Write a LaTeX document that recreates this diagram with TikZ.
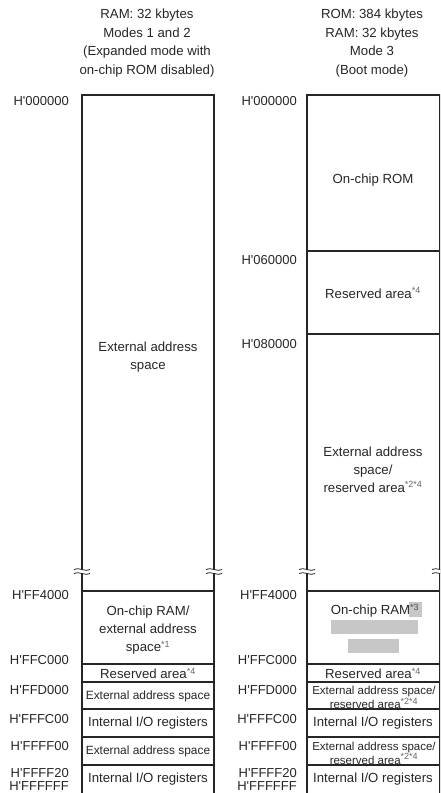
\documentclass[tikz,border=0pt]{standalone}
\usepackage{fontspec}
\setmainfont{Liberation Sans}
\begin{document}
\begin{tikzpicture}[x=1pt,y=-1pt,
  txt/.style={font=\fontsize{13.2}{18}\selectfont, align=center, inner sep=0pt, text=black!85},
  hdr/.style={font=\fontsize{13.2}{18.8}\selectfont, align=center, inner sep=0pt, text=black!85},
  smalltxt/.style={font=\fontsize{11.9}{12}\selectfont, align=center, inner sep=0pt, text=black!85},
  tinytxt/.style={font=\fontsize{11.5}{11.5}\selectfont, align=center, inner sep=0pt, text=black!85},
  lbl/.style={font=\fontsize{13}{14}\selectfont, anchor=east, inner sep=0pt, text=black!85},
  border/.style={line width=1.3pt, black!85},
  sepline/.style={line width=1.6pt, black!85},
  wave/.style={line width=0.8pt, black!85},
  redact/.style={fill=black!22, draw=none}
]
\newcommand{\nt}[1]{\textsuperscript{\color{black!60}\fontsize{9}{9}\selectfont #1}}
\newcommand{\ap}{\textquotesingle}
\newcommand{\brk}[2]{%
  \fill[white] (#1-9,#2-1.5) rectangle (#1+9,#2+2.5);
  \draw[wave] (#1-8,#2-0.5) .. controls (#1-4,#2-3.5) and (#1+4,#2+2.5) .. (#1+8,#2-0.5);
  \draw[wave] (#1-8,#2+3.5) .. controls (#1-4,#2+0.5) and (#1+4,#2+6.5) .. (#1+8,#2+3.5);}
\useasboundingbox (0,0) rectangle (440,793);
\clip (0,0) rectangle (440,793);

% headers
\node[hdr] (h1) at (147,43) {RAM: 32 kbytes\\Modes 1 and 2\\(Expanded mode with\\on-chip ROM disabled)};
\node[hdr] (h2) at (372,43) {ROM: 384 kbytes\\RAM: 32 kbytes\\Mode 3\\(Boot mode)};

% left column frame
\draw[border] (82,793) -- (82,95) -- (214,95) -- (214,793);
\foreach \y in {591,664} \draw[border] (82,\y) -- (214,\y);
\foreach \y in {682,709,737,765} \draw[sepline] (82,\y) -- (214,\y);
\brk{82}{570}
\brk{214}{570}

% right column frame
\draw[border] (307,793) -- (307,95) -- (440,95) -- (440,793);
\foreach \y in {251,334,591,664} \draw[border] (307,\y) -- (440,\y);
\foreach \y in {682,709,737,765} \draw[sepline] (307,\y) -- (440,\y);
\brk{307}{570}
\brk{440}{570}

% left labels
\node[lbl] (la0) at (69,101) {H\ap000000};
\node[lbl] (la1) at (69,595) {H\ap FF4000};
\node[lbl] (la2) at (69,660) {H\ap FFC000};
\node[lbl] (la3) at (69,690) {H\ap FFD000};
\node[lbl] (la4) at (69,719) {H\ap FFFC00};
\node[lbl] (la5) at (69,746) {H\ap FFFF00};
\node[lbl] (la6) at (69,773) {H\ap FFFF20};
\node[lbl] (la7) at (69,786) {H\ap FFFFFF};

% right labels
\node[lbl] (lb0) at (297,101) {H\ap000000};
\node[lbl] (lb1) at (297,260) {H\ap060000};
\node[lbl] (lb2) at (297,344) {H\ap080000};
\node[lbl] (lb3) at (297,595) {H\ap FF4000};
\node[lbl] (lb4) at (297,660) {H\ap FFC000};
\node[lbl] (lb5) at (297,690) {H\ap FFD000};
\node[lbl] (lb6) at (297,719) {H\ap FFFC00};
\node[lbl] (lb7) at (297,746) {H\ap FFFF00};
\node[lbl] (lb8) at (297,773) {H\ap FFFF20};
\node[lbl] (lb9) at (297,786) {H\ap FFFFFF};

% left column contents
\node[txt] (a1) at (148,357) {External address\\space};
\node[txt] (a2) at (148,630) {On-chip RAM/\\external address\\space\nt{*1}};
\node[txt] (a3) at (148,673.5) {Reserved area\nt{*4}};
\node[smalltxt] (a4) at (148,696) {External address space};
\node[txt] (a5) at (148,723) {Internal I/O registers};
\node[smalltxt] (a6) at (148,751) {External address space};
\node[txt] (a7) at (148,779) {Internal I/O registers};

% right column contents
\node[txt] (b1) at (373,180) {On-chip ROM};
\node[txt] (b2) at (373,293) {Reserved area\nt{*4}};
\node[txt] (b3) at (373,469.5) {External address\\space/\\reserved area\nt{*2*4}};
\fill[redact] (409,602) rectangle (422,617);
\fill[redact] (331,620) rectangle (418,634);
\fill[redact] (348,639) rectangle (399,653);
\node[txt] (b4) at (375,611) {On-chip RAM\textsuperscript{\color{black!70}\fontsize{9}{9}\selectfont *3}};
\node[txt] (b5) at (373,673.5) {Reserved area\nt{*4}};
\node[tinytxt] (b6) at (374,697.5) {External address space/\\reserved area\nt{*2*4}};
\node[txt] (b7) at (373,723) {Internal I/O registers};
\node[tinytxt] (b8) at (374,753) {External address space/\\reserved area\nt{*2*4}};
\node[txt] (b9) at (373,779) {Internal I/O registers};
\end{tikzpicture}
\end{document}
